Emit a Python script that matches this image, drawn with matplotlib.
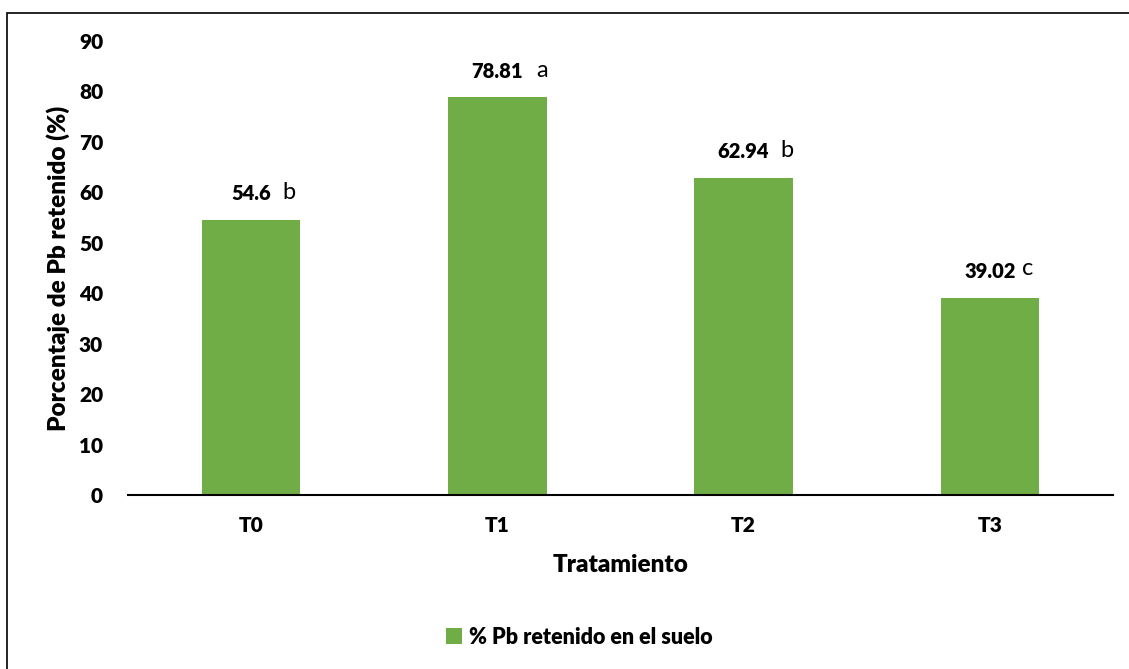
import matplotlib.pyplot as plt
from matplotlib.patches import Rectangle

# Data
tratamientos = ["T0", "T1", "T2", "T3"]
retenido = [54.6, 78.81, 62.94, 39.02]
letras = ["b", "a", "b", "c"]
etiquetas = ["54.6", "78.81", "62.94", "39.02"]

plt.rcParams['font.family'] = ['Lato', 'DejaVu Sans']

fig = plt.figure(figsize=(11.29, 6.69), dpi=100)
ax = fig.add_axes([0.1134, 0.2601, 0.8724, 0.6786])

# Border around the chart area (as in the Excel export)
fig.patches.append(Rectangle((7 / 1129, -0.01), 1.02, 1 - 13 / 669 + 0.01,
                             transform=fig.transFigure, fill=False,
                             edgecolor='black', linewidth=1.2))

x = range(len(tratamientos))
bars = ax.bar(x, retenido, width=0.4, color='#70AD47',
              label='% Pb retenido en el suelo', zorder=2)

# Value + significance letter above each bar
letter_off = {"54.6": 27, "78.81": 32, "62.94": 31, "39.02": 27}
for xi, val, txt, let in zip(x, retenido, etiquetas, letras):
    ax.annotate(txt, (xi, val), xytext=(0, 12), textcoords='offset points',
                ha='center', va='bottom', fontsize=14.5, fontweight='heavy')
    ax.annotate(let, (xi, val), xytext=(letter_off[txt], 12 if let != 'c' else 14),
                textcoords='offset points', ha='center', va='bottom',
                fontsize=17)

ax.set_xlim(-0.5, 3.5)
ax.set_ylim(0, 90)
ax.set_yticks(range(0, 91, 10))
ax.set_xticks(list(x))
ax.set_xticklabels(tratamientos)
for lbl in ax.get_xticklabels() + ax.get_yticklabels():
    lbl.set_fontweight('heavy')
    lbl.set_fontsize(15)

ax.tick_params(axis='both', length=0)
ax.tick_params(axis='y', pad=18)
ax.tick_params(axis='x', pad=15)
for side in ['top', 'right', 'left']:
    ax.spines[side].set_visible(False)
ax.spines['bottom'].set_linewidth(1.5)

ax.set_ylabel('Porcentaje de Pb retenido (%)', fontsize=17.5, fontweight='heavy',
              labelpad=6)
ax.set_xlabel('Tratamiento', fontsize=17.5, fontweight='heavy', labelpad=14)

fig.legend(handles=[bars], labels=['% Pb retenido en el suelo'],
           loc='center', bbox_to_anchor=(0.513, 1 - 637 / 669), frameon=False,
           prop={'weight': 'heavy', 'size': 15.5}, handlelength=0.75,
           handleheight=0.75, handletextpad=0.3)

fig.savefig('out.png', dpi=100)
